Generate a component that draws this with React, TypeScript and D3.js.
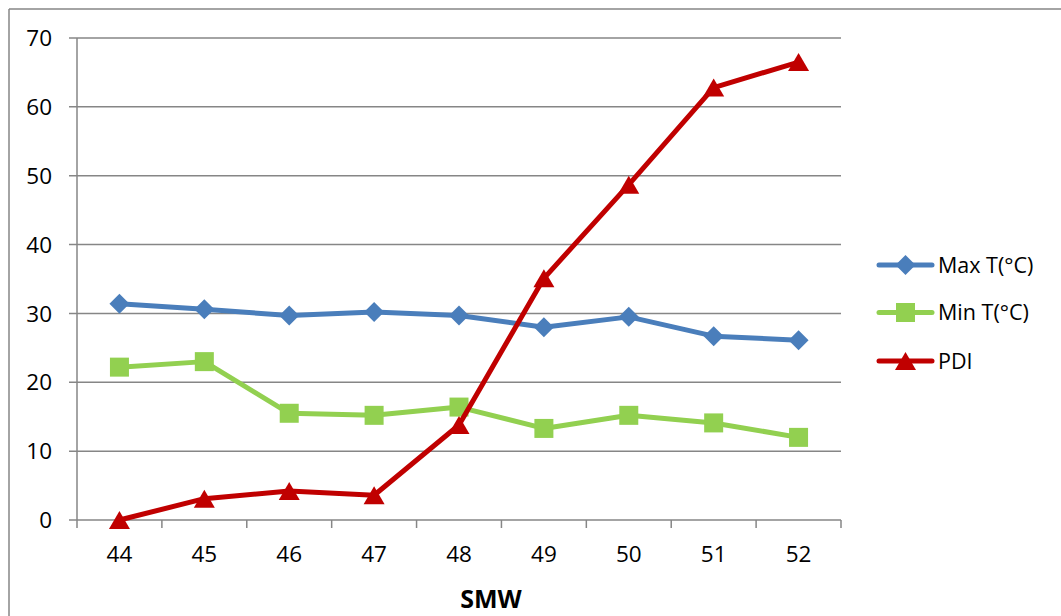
import React from "react";
import * as d3 from "d3";

const categories = ["44", "45", "46", "47", "48", "49", "50", "51", "52"];
const maxT = [31.4, 30.6, 29.7, 30.2, 29.7, 28.0, 29.5, 26.7, 26.1];
const minT = [22.2, 23.0, 15.5, 15.2, 16.4, 13.3, 15.2, 14.1, 12.0];
const pdi = [0, 3.1, 4.2, 3.6, 13.8, 35.1, 48.7, 62.8, 66.5];
const yTicks = [0, 10, 20, 30, 40, 50, 60, 70];

const seriesNames = ["Max T(\u00B0C)", "Min T(\u00B0C)", "PDI"];
const seriesColors = ["#4A7EBB", "#92D050", "#C00000"];
const seriesShapes = ["diamond", "square", "triangle"];

const W = 1061;
const H = 616;
const plot = { left: 77, right: 841, top: 38, bottom: 520 };
const FONT = "'Open Sans', 'Noto Sans', sans-serif";

function Marker({ shape, x, y, color }: { shape: string; x: number; y: number; color: string }) {
  if (shape === "diamond") {
    const r = 10;
    return <path d={`M${x},${y - r}L${x + r},${y}L${x},${y + r}L${x - r},${y}Z`} fill={color} />;
  }
  if (shape === "square") {
    const s = 19;
    return <rect x={x - s / 2} y={y - s / 2} width={s} height={s} fill={color} />;
  }
  const w = 21;
  const h = 18;
  return <path d={`M${x},${y - h / 2}L${x + w / 2},${y + h / 2}L${x - w / 2},${y + h / 2}Z`} fill={color} />;
}

export default function App() {
  const x = d3.scaleBand<string>().domain(categories).range([plot.left, plot.right]);
  const y = d3.scaleLinear().domain([0, 70]).range([plot.bottom, plot.top]);
  const cx = (c: string) => (x(c) as number) + x.bandwidth() / 2;
  const line = d3
    .line<number>()
    .x((_, i) => cx(categories[i]))
    .y((v) => y(v));
  const series = [maxT, minT, pdi];
  const grid = "#868686";
  const boundaries = categories.map((c) => x(c) as number).concat([plot.right]);
  const legendY = [265, 312.5, 361];

  return (
    <svg width={W} height={H} style={{ position: "absolute", left: 0, top: 0 }} fontFamily={FONT}>
      <rect x={0} y={0} width={W} height={H} fill="#fff" />
      {/* outer border */}
      <line x1={9} y1={9} x2={W} y2={9} stroke={grid} strokeWidth={1.5} />
      <line x1={9} y1={9} x2={9} y2={H} stroke={grid} strokeWidth={1.5} />
      {/* gridlines */}
      {yTicks.map((t) => (
        <g key={t}>
          <line x1={plot.left - 8} x2={plot.right} y1={y(t)} y2={y(t)} stroke={grid} strokeWidth={1.5} />
          <text x={52} y={y(t)} dy="0.36em" textAnchor="end" fontSize={22.5} fill="#000">
            {t}
          </text>
        </g>
      ))}
      {/* y axis */}
      <line x1={plot.left} x2={plot.left} y1={plot.top} y2={plot.bottom} stroke={grid} strokeWidth={1.5} />
      {/* x ticks */}
      {boundaries.map((b, i) => (
        <line key={i} x1={b} x2={b} y1={plot.bottom} y2={plot.bottom + 8} stroke={grid} strokeWidth={1.5} />
      ))}
      {categories.map((c) => (
        <text key={c} x={cx(c)} y={554} dy="0.36em" textAnchor="middle" fontSize={22.5} fill="#000">
          {c}
        </text>
      ))}
      <text x={491} y={599} dy="0.36em" textAnchor="middle" fontSize={25} fontWeight="bold" fill="#000">
        SMW
      </text>
      {/* series */}
      {series.map((vals, si) => (
        <g key={si}>
          <path d={line(vals) || ""} fill="none" stroke={seriesColors[si]} strokeWidth={5} strokeLinejoin="round" strokeLinecap="round" />
          {vals.map((v, i) => (
            <Marker key={i} shape={seriesShapes[si]} x={cx(categories[i])} y={y(v)} color={seriesColors[si]} />
          ))}
        </g>
      ))}
      {/* legend */}
      {seriesNames.map((n, si) => (
        <g key={n}>
          <line x1={879} x2={932} y1={legendY[si]} y2={legendY[si]} stroke={seriesColors[si]} strokeWidth={5} strokeLinecap="round" />
          <Marker shape={seriesShapes[si]} x={905.5} y={legendY[si]} color={seriesColors[si]} />
          <text x={938} y={legendY[si]} dy="0.36em" fontSize={21.5} fill="#000">
            {n}
          </text>
        </g>
      ))}
    </svg>
  );
}
